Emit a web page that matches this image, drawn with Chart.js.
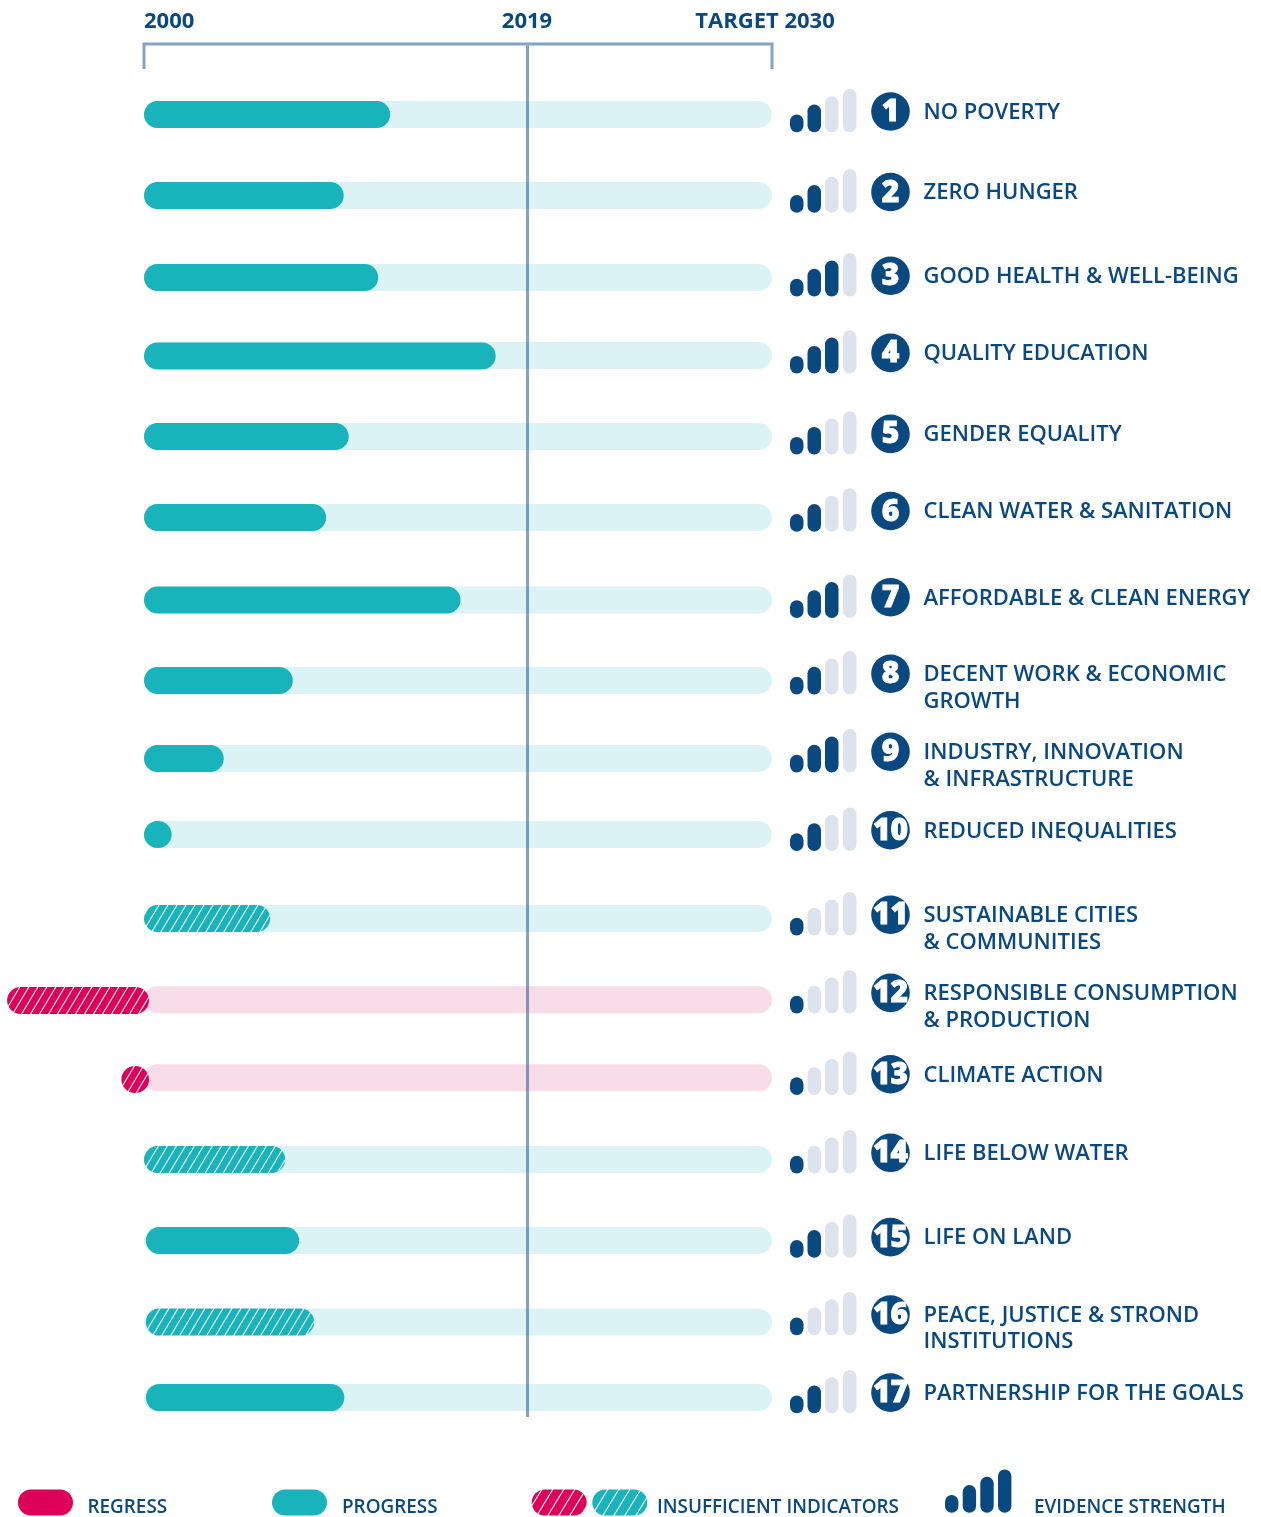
<!DOCTYPE html>
<html>
<head>
<meta charset="utf-8">
<style>html,body{margin:0;padding:0;background:#fff}canvas{display:block}</style>
<script src="https://cdn.jsdelivr.net/npm/chart.js@4/dist/chart.umd.js"></script>
</head>
<body>
<canvas id="c" width="1261" height="1517"></canvas>
<script>
// ---- data ----
const goals = ['1','2','3','4','5','6','7','8','9','10','11','12','13','14','15','16','17'];
const goalNames = [
  ['NO POVERTY'],['ZERO HUNGER'],['GOOD HEALTH & WELL-BEING'],['QUALITY EDUCATION'],
  ['GENDER EQUALITY'],['CLEAN WATER & SANITATION'],['AFFORDABLE & CLEAN ENERGY'],
  ['DECENT WORK & ECONOMIC','GROWTH'],['INDUSTRY, INNOVATION','& INFRASTRUCTURE'],
  ['REDUCED INEQUALITIES'],['SUSTAINABLE CITIES','& COMMUNITIES'],
  ['RESPONSIBLE CONSUMPTION','& PRODUCTION'],['CLIMATE ACTION'],['LIFE BELOW WATER'],
  ['LIFE ON LAND'],['PEACE, JUSTICE & STROND','INSTITUTIONS'],['PARTNERSHIP FOR THE GOALS']
];
const barStart = [0,0,0,0,0,0,0,0,0,0,0,-21.8,-3.6,0,0.3,0.3,0.3];
const barEnd = [39.2,31.8,37.3,56,32.6,29,50.4,23.7,12.7,4.4,20.1,0.8,0.8,22.5,24.7,27.1,31.9];
const insufficient = [0,0,0,0,0,0,0,0,0,0,1,1,1,1,0,1,0];
const evidence = [2,2,3,3,2,2,3,2,3,2,1,1,1,1,2,1,2];
const trackStart = [0,0,0,0,0,0,0,0,0,0,0,0,0,0,0,0,0];
const trackEnd = [100,100,100,100,100,100,100,100,100,100,100,100,100,100,100,100,100];
const milestones = [0, 61.07, 100];
const milestoneLabels = ['2000','2019','TARGET 2030'];
const legendLabels = ['REGRESS','PROGRESS','INSUFFICIENT INDICATORS','EVIDENCE STRENGTH'];

// ---- style / layout ----
const NAVY='#0a4880', TEAL='#19b3bb', CRIMSON='#de0058', TRACK='#dcf3f5', PINK='#f8dce8', PALE='#dce3ed', RULE='rgba(10,72,128,0.5)';
const FONT='"Open Sans"';
const barNudge=[0,0.8,2.6,0.9,1.25,2.06,4.37,4.69,2.5,-1.69,2.12,3.94,2.75,2.56,3.37,4.69,0];
const trackNudge=[0,0.8,2.6,0.4,1.25,2.06,4.37,4.69,2.5,-1.69,2.12,3.2,1.05,2.56,3.37,4.69,0];
const labelNudge=[-3,-2.7,0.9,-2.2,-1.4,-4.5,1.6,-2.1,-4.3,-6,-1.7,-3.8,-2.55,-4.2,-0.13,-2.81,-5];

function hatch(color,w,h){
  const t=document.createElement('canvas');t.width=w;t.height=h;
  const g=t.getContext('2d');
  g.fillStyle=color;g.fillRect(0,0,w,h);
  g.strokeStyle='#fff';g.lineWidth=1.1;
  for(const dx of [-w,0,w]){g.beginPath();g.moveTo(dx,h);g.lineTo(dx+w,0);g.stroke();}
  return g.createPattern(t,'repeat');
}
const hatchTeal=hatch(TEAL,9,15), hatchCrimson=hatch(CRIMSON,9,15);
const keyTeal=hatch(TEAL,11,18), keyCrimson=hatch(CRIMSON,11,18);

class RowScale extends Chart.CategoryScale{
  getPixelForValue(value,index){
    const p=super.getPixelForValue(value,index);
    const v=typeof value==='number'?value:this.parse(value);
    return p+((this.options.rowNudge||[])[Math.round(v)]||0);
  }
}
RowScale.id='rowScale';
RowScale.defaults=Chart.CategoryScale.defaults;
Chart.register(RowScale);

function pill(ctx,x,y,w,h,fill){
  ctx.beginPath();ctx.roundRect(x,y,w,h,Math.min(w,h)/2);ctx.fillStyle=fill;ctx.fill();
}

const decor={
  id:'decor',
  afterDatasetsDraw(chart){
    const ctx=chart.ctx,x=chart.scales.x,rows=chart.scales.rowLabels;
    ctx.save();
    // bracket and 2019 rule
    const x0=x.getPixelForValue(milestones[0]),x1=x.getPixelForValue(milestones[1]),x2=x.getPixelForValue(milestones[2]);
    ctx.strokeStyle=RULE;ctx.lineWidth=3;
    ctx.beginPath();ctx.moveTo(x0,69);ctx.lineTo(x0,44);ctx.lineTo(x2,44);ctx.lineTo(x2,69);ctx.stroke();
    ctx.beginPath();ctx.moveTo(x1,45.5);ctx.lineTo(x1,1417);ctx.stroke();
    // header labels
    ctx.fillStyle=NAVY;ctx.font='700 22px '+FONT;ctx.textBaseline='middle';
    ctx.textAlign='left';ctx.fillText(milestoneLabels[0],x0,22);
    ctx.textAlign='center';ctx.fillText(milestoneLabels[1],x1-0.5,22);
    ctx.fillText(milestoneLabels[2],x2-7,22);
    // evidence bars, badges, names
    const ex=[790,807.5,825,843],eh=[17.7,27.7,36,43.4];
    goals.forEach((g,i)=>{
      const cy=rows.getPixelForValue(i);
      ex.forEach((bx,k)=>pill(ctx,bx,cy+20.7-eh[k],13.5,eh[k],k<evidence[i]?NAVY:PALE));
      ctx.beginPath();ctx.arc(890.5,cy,19.3,0,Math.PI*2);ctx.fillStyle=NAVY;ctx.fill();
      ctx.fillStyle='#fff';ctx.strokeStyle='#fff';ctx.lineWidth=0.8;
      ctx.font='800 30px '+FONT;ctx.textAlign='center';ctx.textBaseline='middle';
      ctx.fillText(g,890.5,cy+1);ctx.strokeText(g,890.5,cy+1);
      ctx.fillStyle=NAVY;ctx.font='600 22px '+FONT;ctx.textAlign='left';
      goalNames[i].forEach((line,l)=>ctx.fillText(line,923.5,cy+1.1+l*26.5));
    });
    // legend
    pill(ctx,18,1489.5,55,26,CRIMSON);
    pill(ctx,272,1489.5,55,26,TEAL);
    pill(ctx,531.7,1489.5,55,26,keyCrimson);
    pill(ctx,592.3,1489.5,55,26,keyTeal);
    [945,962.7,980.3,998].forEach((bx,k)=>pill(ctx,bx,1512.8-eh[k],13.4,eh[k],NAVY));
    ctx.fillStyle=NAVY;ctx.font='600 19.5px '+FONT;ctx.textAlign='left';ctx.textBaseline='middle';
    [87.5,342,657,1034].forEach((tx,k)=>{
      const t=legendLabels[k];
      ctx.fillText(t,tx,1507,ctx.measureText(t).width*0.968);
    });
    ctx.restore();
  }
};

new Chart(document.getElementById('c'),{
  type:'bar',
  data:{
    labels:goals,
    datasets:[
      {label:'Progress',order:0,grouped:false,clip:false,
       data:barStart.map((s,i)=>[s,barEnd[i]]),
       backgroundColor:barStart.map((s,i)=>{
         const neg=s<0;
         return insufficient[i]?(neg?hatchCrimson:hatchTeal):(neg?CRIMSON:TEAL);
       })},
      {label:'Track to 2030',order:1,grouped:false,clip:false,yAxisID:'rowTrack',
       data:trackStart.map((s,i)=>[s,trackEnd[i]]),
       backgroundColor:barStart.map(s=>s<0?PINK:TRACK)}
    ]
  },
  options:{
    indexAxis:'y',responsive:false,animation:false,
    events:[],
    datasets:{bar:{barThickness:27,borderRadius:13.5,borderSkipped:false,borderWidth:0,inflateAmount:0}},
    layout:{padding:{left:144,right:489,top:74.41,bottom:79.31}},
    plugins:{legend:{display:false},tooltip:{enabled:false}},
    scales:{
      x:{type:'linear',min:0,max:100,display:false},
      y:{type:'rowScale',offset:true,display:false,rowNudge:barNudge},
      rowTrack:{type:'rowScale',axis:'y',offset:true,display:false,rowNudge:trackNudge},
      rowLabels:{type:'rowScale',axis:'y',offset:true,display:false,rowNudge:labelNudge}
    }
  },
  plugins:[decor]
});
</script>
</body>
</html>
